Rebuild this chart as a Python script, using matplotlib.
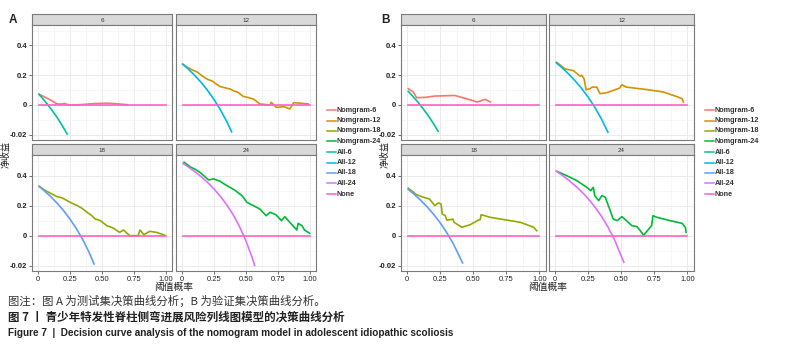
import matplotlib
matplotlib.use('Agg')
import matplotlib.pyplot as plt
from matplotlib.lines import Line2D

plt.rcParams['font.family'] = ['Liberation Sans', 'Noto Sans CJK SC', 'DejaVu Sans']

# ---------------- data ----------------
facets = ["6", "12", "18", "24"]
series_names = ["Nomgram-6", "Nomgram-12", "Nomgram-18", "Nomgram-24",
                "All-6", "All-12", "All-18", "All-24", "None"]
series_colors = ["#F8766D", "#D39200", "#93AA00", "#00BA38",
                 "#00C19F", "#00B9E3", "#619CFF", "#DB72FB", "#FF61C3"]

x_ticks = [0, 0.25, 0.5, 0.75, 1.0]
x_ticklabels = ["0", "0.25", "0.50", "0.75", "1.00"]
y_ticks = [-0.2, 0, 0.2, 0.4]
y_ticklabels = ["-0.02", "0", "0.2", "0.4"]

none_x = [0.01, 1.0]
none_y = [0.0, 0.0]

# ---- Panel A (test set) ----
A_nom6_x = [0.01, 0.05, 0.10, 0.15, 0.18, 0.21, 0.23, 0.25, 0.30, 0.36, 0.45, 0.55, 0.62, 0.70]
A_nom6_y = [0.073, 0.055, 0.033, 0.008, 0.006, 0.010, 0.004, 0.0, 0.0, 0.004, 0.010, 0.012, 0.008, 0.002]
A_nom12_x = [0.005, 0.04, 0.083, 0.12, 0.16, 0.20, 0.24, 0.27, 0.30, 0.34, 0.38, 0.405, 0.44, 0.48, 0.52, 0.56, 0.58, 0.61, 0.69, 0.70, 0.74, 0.80, 0.845, 0.876, 0.93, 0.99]
A_nom12_y = [0.275, 0.255, 0.235, 0.222, 0.195, 0.173, 0.160, 0.140, 0.124, 0.115, 0.107, 0.095, 0.085, 0.058, 0.050, 0.040, 0.028, 0.007, 0.0, 0.018, -0.016, -0.011, -0.027, 0.016, 0.012, 0.007]
A_nom18_x = [0.01, 0.05, 0.10, 0.15, 0.19, 0.23, 0.27, 0.31, 0.35, 0.385, 0.42, 0.45, 0.49, 0.54, 0.59, 0.64, 0.67, 0.72, 0.785, 0.80, 0.83, 0.876, 0.93, 0.99]
A_nom18_y = [0.329, 0.305, 0.282, 0.260, 0.252, 0.233, 0.215, 0.200, 0.180, 0.156, 0.135, 0.111, 0.100, 0.067, 0.051, 0.022, 0.038, 0.0, 0.0, 0.038, 0.007, 0.029, 0.022, 0.004]
A_nom24_x = [0.018, 0.07, 0.11, 0.147, 0.186, 0.21, 0.25, 0.30, 0.33, 0.367, 0.42, 0.47, 0.51, 0.56, 0.61, 0.66, 0.69, 0.736, 0.78, 0.806, 0.845, 0.90, 0.91, 0.94, 0.96, 1.0]
A_nom24_y = [0.489, 0.456, 0.440, 0.418, 0.389, 0.371, 0.378, 0.362, 0.345, 0.327, 0.300, 0.267, 0.222, 0.200, 0.178, 0.133, 0.156, 0.140, 0.100, 0.127, 0.089, 0.038, 0.082, 0.067, 0.038, 0.016]
A_all6_x = [0.01, 0.03, 0.06, 0.09, 0.12, 0.15, 0.18, 0.21, 0.23]
A_all6_y = [0.071, 0.052, 0.021, -0.011, -0.046, -0.082, -0.122, -0.165, -0.195]
A_all12_x = [0.01, 0.05, 0.10, 0.15, 0.20, 0.25, 0.30, 0.35, 0.39]
A_all12_y = [0.273, 0.242, 0.200, 0.153, 0.100, 0.040, -0.029, -0.108, -0.180]
A_all18_x = [0.01, 0.05, 0.10, 0.15, 0.20, 0.25, 0.30, 0.35, 0.40, 0.44]
A_all18_y = [0.328, 0.300, 0.261, 0.218, 0.169, 0.113, 0.050, -0.023, -0.108, -0.188]
A_all24_x = [0.01, 0.05, 0.10, 0.15, 0.20, 0.25, 0.30, 0.35, 0.40, 0.45, 0.50, 0.55, 0.57]
A_all24_y = [0.480, 0.458, 0.428, 0.394, 0.356, 0.313, 0.264, 0.208, 0.142, 0.064, -0.030, -0.144, -0.198]

# ---- Panel B (validation set) ----
B_nom6_x = [0.01, 0.048, 0.073, 0.136, 0.21, 0.36, 0.45, 0.53, 0.59, 0.63]
B_nom6_y = [0.109, 0.087, 0.049, 0.051, 0.060, 0.064, 0.042, 0.020, 0.038, 0.020]
B_nom12_x = [0.013, 0.076, 0.139, 0.19, 0.202, 0.22, 0.235, 0.265, 0.28, 0.316, 0.34, 0.39, 0.44, 0.487, 0.505, 0.54, 0.69, 0.82, 0.93, 0.96, 0.97]
B_nom12_y = [0.287, 0.242, 0.231, 0.193, 0.200, 0.176, 0.102, 0.109, 0.120, 0.120, 0.076, 0.082, 0.098, 0.113, 0.136, 0.120, 0.104, 0.087, 0.053, 0.042, 0.020]
B_nom18_x = [0.01, 0.073, 0.124, 0.17, 0.21, 0.237, 0.257, 0.267, 0.29, 0.30, 0.33, 0.346, 0.356, 0.414, 0.477, 0.54, 0.553, 0.56, 0.63, 0.856, 0.957, 0.98]
B_nom18_y = [0.316, 0.273, 0.256, 0.244, 0.200, 0.218, 0.211, 0.144, 0.133, 0.104, 0.107, 0.111, 0.089, 0.056, 0.073, 0.104, 0.107, 0.140, 0.122, 0.089, 0.056, 0.033]
B_nom24_x = [0.013, 0.088, 0.164, 0.24, 0.27, 0.29, 0.30, 0.33, 0.354, 0.38, 0.417, 0.44, 0.47, 0.505, 0.54, 0.58, 0.62, 0.67, 0.73, 0.74, 0.77, 0.87, 0.96, 0.985, 0.99]
B_nom24_y = [0.429, 0.400, 0.367, 0.322, 0.300, 0.322, 0.267, 0.233, 0.267, 0.256, 0.167, 0.111, 0.100, 0.127, 0.100, 0.067, 0.060, 0.004, 0.067, 0.133, 0.122, 0.100, 0.082, 0.056, 0.022]
B_all6_x = [0.01, 0.04, 0.08, 0.12, 0.16, 0.20, 0.235]
B_all6_y = [0.091, 0.0625, 0.022, -0.023, -0.071, -0.125, -0.176]
B_all12_x = [0.01, 0.05, 0.10, 0.15, 0.20, 0.25, 0.30, 0.35, 0.40]
B_all12_y = [0.283, 0.253, 0.211, 0.165, 0.1125, 0.053, -0.014, -0.092, -0.183]
B_all18_x = [0.01, 0.05, 0.10, 0.15, 0.20, 0.25, 0.30, 0.35, 0.42]
B_all18_y = [0.308, 0.279, 0.239, 0.194, 0.144, 0.087, 0.021, -0.054, -0.181]
B_all24_x = [0.01, 0.05, 0.10, 0.15, 0.20, 0.25, 0.30, 0.35, 0.40, 0.45, 0.52]
B_all24_y = [0.429, 0.405, 0.372, 0.335, 0.294, 0.247, 0.193, 0.131, 0.058, -0.027, -0.177]

panel_labels = ["A", "B"]
y_label = "净收益"
x_label = "阈值概率"
caption1 = "图注：图 A 为测试集决策曲线分析；B 为验证集决策曲线分析。"
caption2 = "图 7 丨 青少年特发性脊柱侧弯进展风险列线图模型的决策曲线分析"
caption3 = "Figure 7  |  Decision curve analysis of the nomogram model in adolescent idiopathic scoliosis"

# ---------------- layout ----------------
W, H = 804, 348
fig = plt.figure(figsize=(W / 100, H / 100), dpi=100)
fig.patch.set_facecolor('white')


def px_axes(l, t, r, b):
    return fig.add_axes([l / W, 1 - b / H, (r - l) / W, (b - t) / H])


blocks = {
    "A": {
        "cols": [(32, 172), (176, 316)],
        "nom": [(A_nom6_x, A_nom6_y), (A_nom12_x, A_nom12_y), (A_nom18_x, A_nom18_y), (A_nom24_x, A_nom24_y)],
        "all": [(A_all6_x, A_all6_y), (A_all12_x, A_all12_y), (A_all18_x, A_all18_y), (A_all24_x, A_all24_y)],
        "label_xy": (9, 20), "ylab_x": 6, "xlab_x": 174,
        "legend_x": 327,
    },
    "B": {
        "cols": [(401, 546), (549, 694)],
        "nom": [(B_nom6_x, B_nom6_y), (B_nom12_x, B_nom12_y), (B_nom18_x, B_nom18_y), (B_nom24_x, B_nom24_y)],
        "all": [(B_all6_x, B_all6_y), (B_all12_x, B_all12_y), (B_all18_x, B_all18_y), (B_all24_x, B_all24_y)],
        "label_xy": (381, 20), "ylab_x": 385, "xlab_x": 548,
        "legend_x": 705,
    },
}
rows = [(14, 25, 140), (144, 155, 271)]

border_col = '#7A7A7A'
for key, blk in blocks.items():
    for i in range(4):
        r, c = divmod(i, 2)
        l, rr = blk["cols"][c]
        st, pt, pb = rows[r]
        # strip
        sax = px_axes(l, st, rr, pt)
        sax.set_facecolor('#D9D9D9')
        sax.set_xticks([]); sax.set_yticks([])
        for sp in sax.spines.values():
            sp.set_color(border_col); sp.set_linewidth(0.8)
        sax.text(0.5, 0.45, facets[i], ha='center', va='center', fontsize=4.5, color='#333333',
                 transform=sax.transAxes)
        # panel
        ax = px_axes(l, pt, rr, pb)
        ax.set_facecolor('white')
        ax.set_xlim(-0.045, 1.05)
        ax.set_ylim(-0.235, 0.537)
        ax.set_xticks(x_ticks)
        ax.set_yticks(y_ticks)
        ax.set_xticks([0.125, 0.375, 0.625, 0.875], minor=True)
        ax.set_yticks([-0.1, 0.1, 0.3, 0.5], minor=True)
        ax.grid(True, which='major', color='#EBEBEB', lw=0.7)
        ax.grid(True, which='minor', color='#F4F4F4', lw=0.5)
        ax.set_axisbelow(True)
        ax.tick_params(which='minor', length=0)
        ax.tick_params(which='major', length=2, width=0.6, color='#555555', pad=1.5,
                       labelsize=5.5, labelcolor='#222222')
        for sp in ax.spines.values():
            sp.set_color(border_col); sp.set_linewidth(0.8)
        if c == 0:
            ax.set_yticklabels(y_ticklabels, fontweight='bold')
        else:
            ax.set_yticklabels([])
            ax.tick_params(axis='y', length=0)
        if r == 1:
            ax.set_xticklabels(x_ticklabels)
        else:
            ax.set_xticklabels([])
            ax.tick_params(axis='x', length=0)
        nx, ny = blk["nom"][i]
        axx, axy = blk["all"][i]
        ax.plot(nx, ny, color=series_colors[i], lw=1.2, solid_joinstyle='round')
        ax.plot(axx, axy, color=series_colors[4 + i], lw=1.2)
        ax.plot(none_x, none_y, color=series_colors[8], lw=1.2)

    # panel label
    lx, ly = blk["label_xy"]
    fig.text(lx / W, 1 - ly / H, key, fontsize=8.5, fontweight='bold', color='#222222',
             ha='left', va='center')
    # y label
    fig.text(blk["ylab_x"] / W, 1 - 154 / H, y_label, rotation=90, fontsize=6.5,
             family=['Noto Sans CJK SC'], color='#222222', ha='center', va='center')
    # x label
    fig.text(blk["xlab_x"] / W, 1 - 287 / H, x_label, fontsize=7,
             family=['Noto Sans CJK SC'], color='#222222', ha='center', va='center')
    # legend
    lgx = blk["legend_x"]
    for j, (nm, colr) in enumerate(zip(series_names, series_colors)):
        yy = 110 + j * 10.5
        fig.add_artist(Line2D([lgx / W, (lgx + 9) / W], [1 - yy / H, 1 - yy / H],
                              color=colr, lw=1.1, transform=fig.transFigure))
        fig.text((lgx + 10) / W, 1 - yy / H, nm, fontsize=5.2, fontweight='bold',
                 color='#333333', ha='left', va='center')

# captions
fig.text(8 / W, 1 - 301 / H, caption1, fontsize=8.2, family=['Noto Sans CJK SC', 'DejaVu Sans'],
         color='#333333', ha='left', va='center')
fig.text(8 / W, 1 - 317 / H, caption2, fontsize=8.3, fontweight='bold',
         family=['Noto Sans CJK SC', 'DejaVu Sans'], color='#222222', ha='left', va='center')
fig.text(8 / W, 1 - 333 / H, caption3, fontsize=7.2, fontweight='bold',
         family=['Liberation Sans'], color='#222222', ha='left', va='center')

fig.savefig('out.png', dpi=100)
